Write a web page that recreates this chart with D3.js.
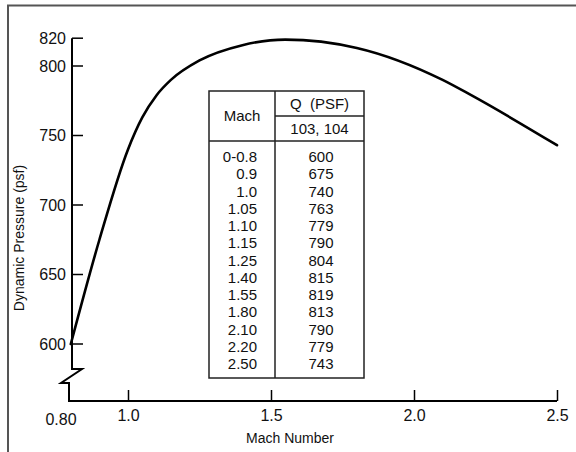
<!DOCTYPE html>
<html>
<head>
<meta charset="utf-8">
<script src="https://cdn.jsdelivr.net/npm/d3@7"></script>
<style>
  html, body { margin: 0; padding: 0; background: #fff; }
  text { font-family: "Liberation Sans", Arial, Helvetica, sans-serif; fill: #111; }
</style>
</head>
<body>
<svg id="chart" width="576" height="452"></svg>
<script>
// ---- data ----
const machValues = [0.8, 0.9, 1.0, 1.05, 1.10, 1.15, 1.25, 1.40, 1.55, 1.80, 2.10, 2.20, 2.50];
const qValues = [600, 675, 740, 763, 779, 790, 804, 815, 819, 813, 790, 779, 743];
const machLabels = ["0-0.8", "0.9", "1.0", "1.05", "1.10", "1.15", "1.25", "1.40", "1.55", "1.80", "2.10", "2.20", "2.50"];
const xTicks = [1.0, 1.5, 2.0, 2.5];
const xTickLabels = ["1.0", "1.5", "2.0", "2.5"];
const yTicks = [600, 650, 700, 750, 800, 820];
const tableHeader = ["Mach", "Q  (PSF)", "103, 104"];

const svg = d3.select("#chart");

// outer frame (clipped by the picture on right/bottom)
svg.append("rect").attr("x", 8).attr("y", 5.5).attr("width", 600).attr("height", 480)
  .attr("fill", "none").attr("stroke", "#555").attr("stroke-width", 2);

const x = d3.scaleLinear().domain([1.0, 2.5]).range([128, 557]);
const y = d3.scaleLinear().domain([600, 800]).range([344, 66]);

const axisX = Math.round(x(0.8)) + 1;
const xAxisY = 401;

// Y axis line with break
const g = svg.append("g");
g.append("path")
  .attr("d", `M${axisX},${y(820)} L${axisX},369 L${axisX + 10},369 L${axisX - 11},383 L${axisX - 3},383 L${axisX - 3},${xAxisY} L${x(2.5)},${xAxisY}`)
  .attr("fill", "none").attr("stroke", "#000").attr("stroke-width", 2).attr("stroke-linejoin", "miter");

// Y ticks (inward) and labels
yTicks.forEach(v => {
  g.append("line").attr("x1", axisX).attr("x2", axisX + 11).attr("y1", y(v)).attr("y2", y(v))
    .attr("stroke", "#000").attr("stroke-width", 1.5);
  g.append("text").attr("x", axisX - 6).attr("y", y(v)).attr("dy", "0.36em")
    .attr("text-anchor", "end").attr("font-size", 16).text(v);
});

// X axis ticks via d3 axis
const xAxis = d3.axisBottom(x).tickValues(xTicks).tickFormat((d, i) => xTickLabels[i])
  .tickSizeInner(-11).tickSizeOuter(0).tickPadding(9);
const xg = svg.append("g").attr("transform", `translate(0,${xAxisY})`).call(xAxis);
xg.select(".domain").remove();
xg.selectAll(".tick line").attr("stroke", "#000").attr("stroke-width", 1.5);
xg.selectAll(".tick text").attr("font-size", 16).attr("font-family", "Liberation Sans, Arial, sans-serif").attr("fill", "#111");

svg.append("text").attr("x", 61).attr("y", xAxisY).attr("dy", "1.47em")
  .attr("text-anchor", "middle").attr("font-size", 16).text("0.80");

// axis titles
svg.append("text").attr("x", 290).attr("y", 443).attr("text-anchor", "middle")
  .attr("font-size", 14).text("Mach Number");
svg.append("text").attr("transform", "translate(24,238) rotate(-90)")
  .attr("text-anchor", "middle").attr("font-size", 14).text("Dynamic Pressure (psf)");

// curve
const pts = machValues.map((m, i) => [m, qValues[i]]);
const line = d3.line().x(d => x(d[0])).y(d => y(d[1])).curve(d3.curveMonotoneX);
svg.append("path").datum(pts).attr("d", line)
  .attr("fill", "none").attr("stroke", "#000").attr("stroke-width", 2.6)
  .attr("stroke-linecap", "round");

// table
const tL = 209, tR = 364, tM = 275, tT = 91, tH1 = 116, tH2 = 141, tB = 378;
const tg = svg.append("g");
tg.append("rect").attr("x", tL).attr("y", tT).attr("width", tR - tL).attr("height", tB - tT)
  .attr("fill", "#fff").attr("stroke", "#222").attr("stroke-width", 1.5);
tg.append("line").attr("x1", tM).attr("x2", tM).attr("y1", tT).attr("y2", tB).attr("stroke", "#222").attr("stroke-width", 1.5);
tg.append("line").attr("x1", tM).attr("x2", tR).attr("y1", tH1).attr("y2", tH1).attr("stroke", "#222").attr("stroke-width", 1.5);
tg.append("line").attr("x1", tL).attr("x2", tR).attr("y1", tH2).attr("y2", tH2).attr("stroke", "#222").attr("stroke-width", 1.5);

tg.append("text").attr("x", (tL + tM) / 2).attr("y", 121).attr("text-anchor", "middle")
  .attr("font-size", 15).text(tableHeader[0]);
tg.append("text").attr("x", (tM + tR) / 2).attr("y", 109).attr("text-anchor", "middle")
  .attr("font-size", 15).style("white-space", "pre").text(tableHeader[1]);
tg.append("text").attr("x", (tM + tR) / 2).attr("y", 134).attr("text-anchor", "middle")
  .attr("font-size", 15).text(tableHeader[2]);

const rowY = d3.scaleLinear().domain([0, machLabels.length - 1]).range([162, 369]);
machLabels.forEach((lab, i) => {
  tg.append("text").attr("x", 257).attr("y", rowY(i)).attr("text-anchor", "end")
    .attr("font-size", 15).text(lab);
  tg.append("text").attr("x", 321).attr("y", rowY(i)).attr("text-anchor", "middle")
    .attr("font-size", 15).text(qValues[i]);
});
</script>
</body>
</html>
